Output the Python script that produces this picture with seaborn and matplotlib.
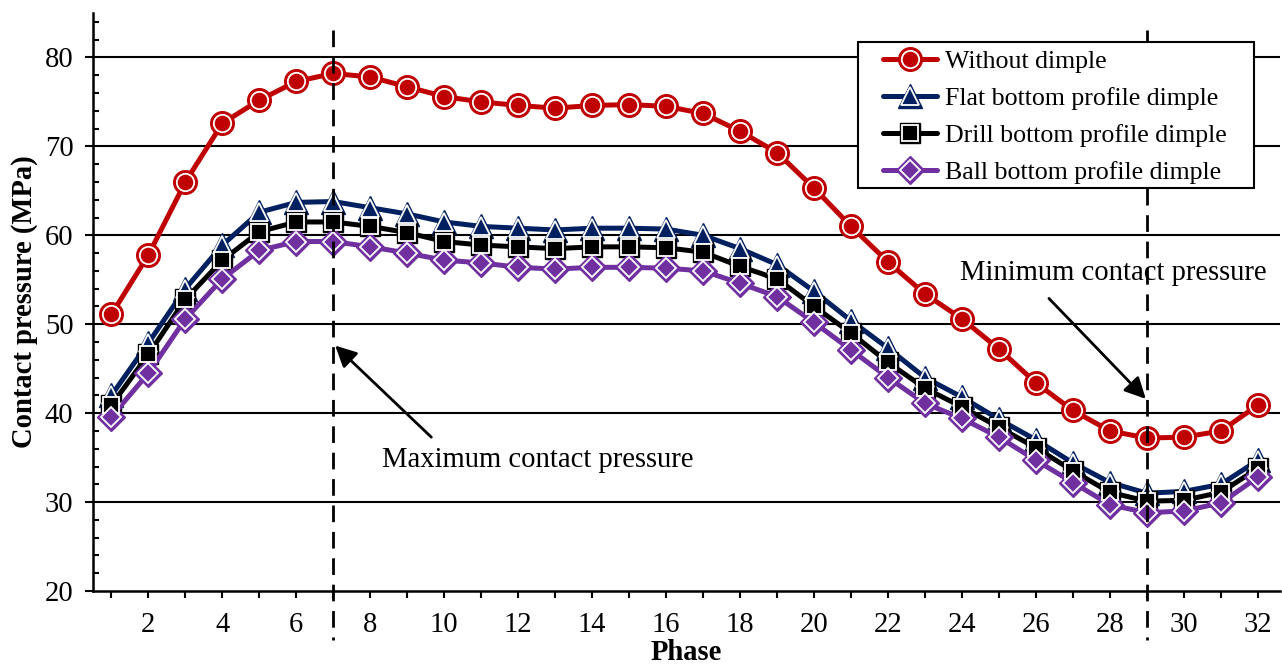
import numpy as np
import pandas as pd
import matplotlib
matplotlib.use("Agg")
import matplotlib.pyplot as plt
import seaborn as sns
from matplotlib.lines import Line2D
from matplotlib.legend_handler import HandlerTuple
from matplotlib.patches import Rectangle
import matplotlib.transforms as mtransforms

phase = list(range(1, 33))
without_dimple = [51.1, 57.8, 66.0, 72.6, 75.2, 77.3, 78.2, 77.8, 76.7, 75.6, 75.0, 74.6, 74.3, 74.6, 74.7, 74.5,
                  73.7, 71.7, 69.3, 65.3, 61.0, 57.0, 53.4, 50.6, 47.2, 43.4, 40.3, 38.0, 37.2, 37.3, 38.0, 40.9]
flat_bottom = [42.0, 47.9, 54.0, 58.9, 62.6, 63.7, 63.8, 63.1, 62.4, 61.5, 61.0, 60.8, 60.6, 60.8, 60.8, 60.7,
               60.0, 58.5, 56.7, 53.7, 50.4, 47.3, 44.0, 41.8, 39.3, 37.0, 34.4, 32.2, 31.0, 31.2, 32.0, 34.7]
drill_bottom = [40.9, 46.6, 52.8, 57.2, 60.4, 61.5, 61.5, 61.0, 60.3, 59.3, 58.9, 58.7, 58.5, 58.7, 58.7, 58.6,
                58.1, 56.5, 55.1, 52.0, 49.0, 45.7, 42.8, 40.7, 38.4, 36.1, 33.5, 31.1, 30.1, 30.2, 31.1, 33.8]
ball_bottom = [39.6, 44.5, 50.6, 55.1, 58.3, 59.3, 59.3, 58.7, 58.0, 57.2, 56.9, 56.4, 56.2, 56.4, 56.4, 56.3,
               56.0, 54.6, 53.1, 50.2, 47.1, 44.0, 41.1, 39.4, 37.3, 34.7, 32.2, 29.7, 28.8, 29.0, 29.9, 32.8]

series_names = ["Without dimple", "Flat bottom profile dimple",
                "Drill bottom profile dimple", "Ball bottom profile dimple"]
series_values = [without_dimple, flat_bottom, drill_bottom, ball_bottom]
colors = ["#C00000", "#002060", "#000000", "#7030A0"]
markers = ["o", "^", "s", "D"]
outer_sizes = [17, 17, 15, 14]
inner_sizes = [12.5, 12.5, 11, 10]

xtick_labels = [str(p) if p % 2 == 0 else "" for p in phase]
yticks = [20, 30, 40, 50, 60, 70, 80]

sns.set_theme(style="white")
plt.rcParams["font.family"] = ["Liberation Serif", "DejaVu Serif"]
plt.rcParams["mathtext.fontset"] = "stix"
plt.rcParams["text.color"] = "black"
plt.rcParams["axes.labelcolor"] = "black"

FS = 20.6
W, H = 1282, 666

fig = plt.figure(figsize=(12.82, 6.66), dpi=100)
ax = fig.add_axes([0.0725, 0.1126, 0.926, 0.8679])

for y in [30, 40, 50, 60, 70, 80]:
    ax.axhline(y, color="black", lw=1.5, zorder=0.5)

handles = []
for name, vals, c, m, so, si in zip(series_names, series_values, colors, markers, outer_sizes, inner_sizes):
    df = pd.DataFrame({"Phase": phase, "P": vals})
    sns.lineplot(data=df, x="Phase", y="P", ax=ax, color=c, lw=3.6, marker=m, markersize=so,
                 markerfacecolor=c, markeredgecolor=c, markeredgewidth=1.0, zorder=3)
    sns.lineplot(data=df, x="Phase", y="P", ax=ax, color=c, linestyle="", marker=m, markersize=si,
                 markerfacecolor=c, markeredgecolor="white", markeredgewidth=1.3, zorder=4)
    h1 = Line2D([], [], color=c, lw=3.6, marker=m, markersize=so, markerfacecolor=c, markeredgecolor=c,
                markeredgewidth=1.0)
    h2 = Line2D([], [], color=c, linestyle="", marker=m, markersize=si, markerfacecolor=c,
                markeredgecolor="white", markeredgewidth=1.3)
    handles.append((h1, h2))

ax.set_xlim(0.5, 32.6)
ax.set_ylim(20, 85)
ax.set_xticks(phase)
ax.set_xticklabels(xtick_labels)
ax.set_yticks(yticks)
ax.set_yticks(np.arange(20, 86, 2), minor=True)
ax.tick_params(axis="x", which="major", direction="out", length=5, width=1.5, pad=10, labelsize=FS,
               bottom=True, colors="black", labelcolor="black")
ax.tick_params(axis="y", which="major", direction="out", length=6, width=1.5, pad=8, labelsize=FS,
               left=True, colors="black", labelcolor="black")
ax.tick_params(axis="y", which="minor", direction="in", length=4.5, width=1.5, left=True, colors="black")

for s in ["top", "right"]:
    ax.spines[s].set_visible(False)
for s in ["left", "bottom"]:
    ax.spines[s].set_color("black")
    ax.spines[s].set_linewidth(1.8)

ax.set_xlabel("Phase", fontsize=FS, fontweight="bold", labelpad=1, color="black")
ax.set_ylabel("Contact pressure (MPa)", fontsize=FS, fontweight="bold", labelpad=5, color="black")

trans = mtransforms.blended_transform_factory(ax.transData, ax.transAxes)
for xv in [7, 29]:
    ax.plot([xv, xv], [0.97, -0.085], transform=trans, color="black", lw=2.0,
            dashes=(6, 3.5), clip_on=False, zorder=5)

ax.annotate("", xy=(7.05, 47.6), xytext=(9.65, 37.3),
            arrowprops=dict(arrowstyle="-|>", color="black", lw=2, mutation_scale=32, shrinkA=0, shrinkB=0),
            zorder=6)
ax.text(12.54, 34.7, "Maximum contact pressure", fontsize=FS, ha="center", va="center", color="black")
ax.annotate("", xy=(28.97, 41.6), xytext=(26.35, 52.9),
            arrowprops=dict(arrowstyle="-|>", color="black", lw=2, mutation_scale=32, shrinkA=0, shrinkB=0),
            zorder=6)
ax.text(28.1, 55.8, "Minimum contact pressure", fontsize=FS, ha="center", va="center", color="black")

# legend frame (figure pixels: x 858-1254, y 42-188)
frame = Rectangle((858 / W, 1 - 188 / H), (1254 - 858) / W, (188 - 42) / H, transform=fig.transFigure,
                  facecolor="white", edgecolor="black", lw=1.5, zorder=9)
fig.patches.append(frame)

leg = fig.legend(handles, series_names, handler_map={tuple: HandlerTuple(ndivide=1)},
                 loc="upper left", bbox_to_anchor=(883 / W, 1 - 50 / H), bbox_transform=fig.transFigure,
                 borderaxespad=0, fontsize=18.6, frameon=False, handlelength=2.1,
                 handletextpad=0.3, labelspacing=0.54, borderpad=0)
leg.set_zorder(10)

fig.savefig("out.png", dpi=100)
